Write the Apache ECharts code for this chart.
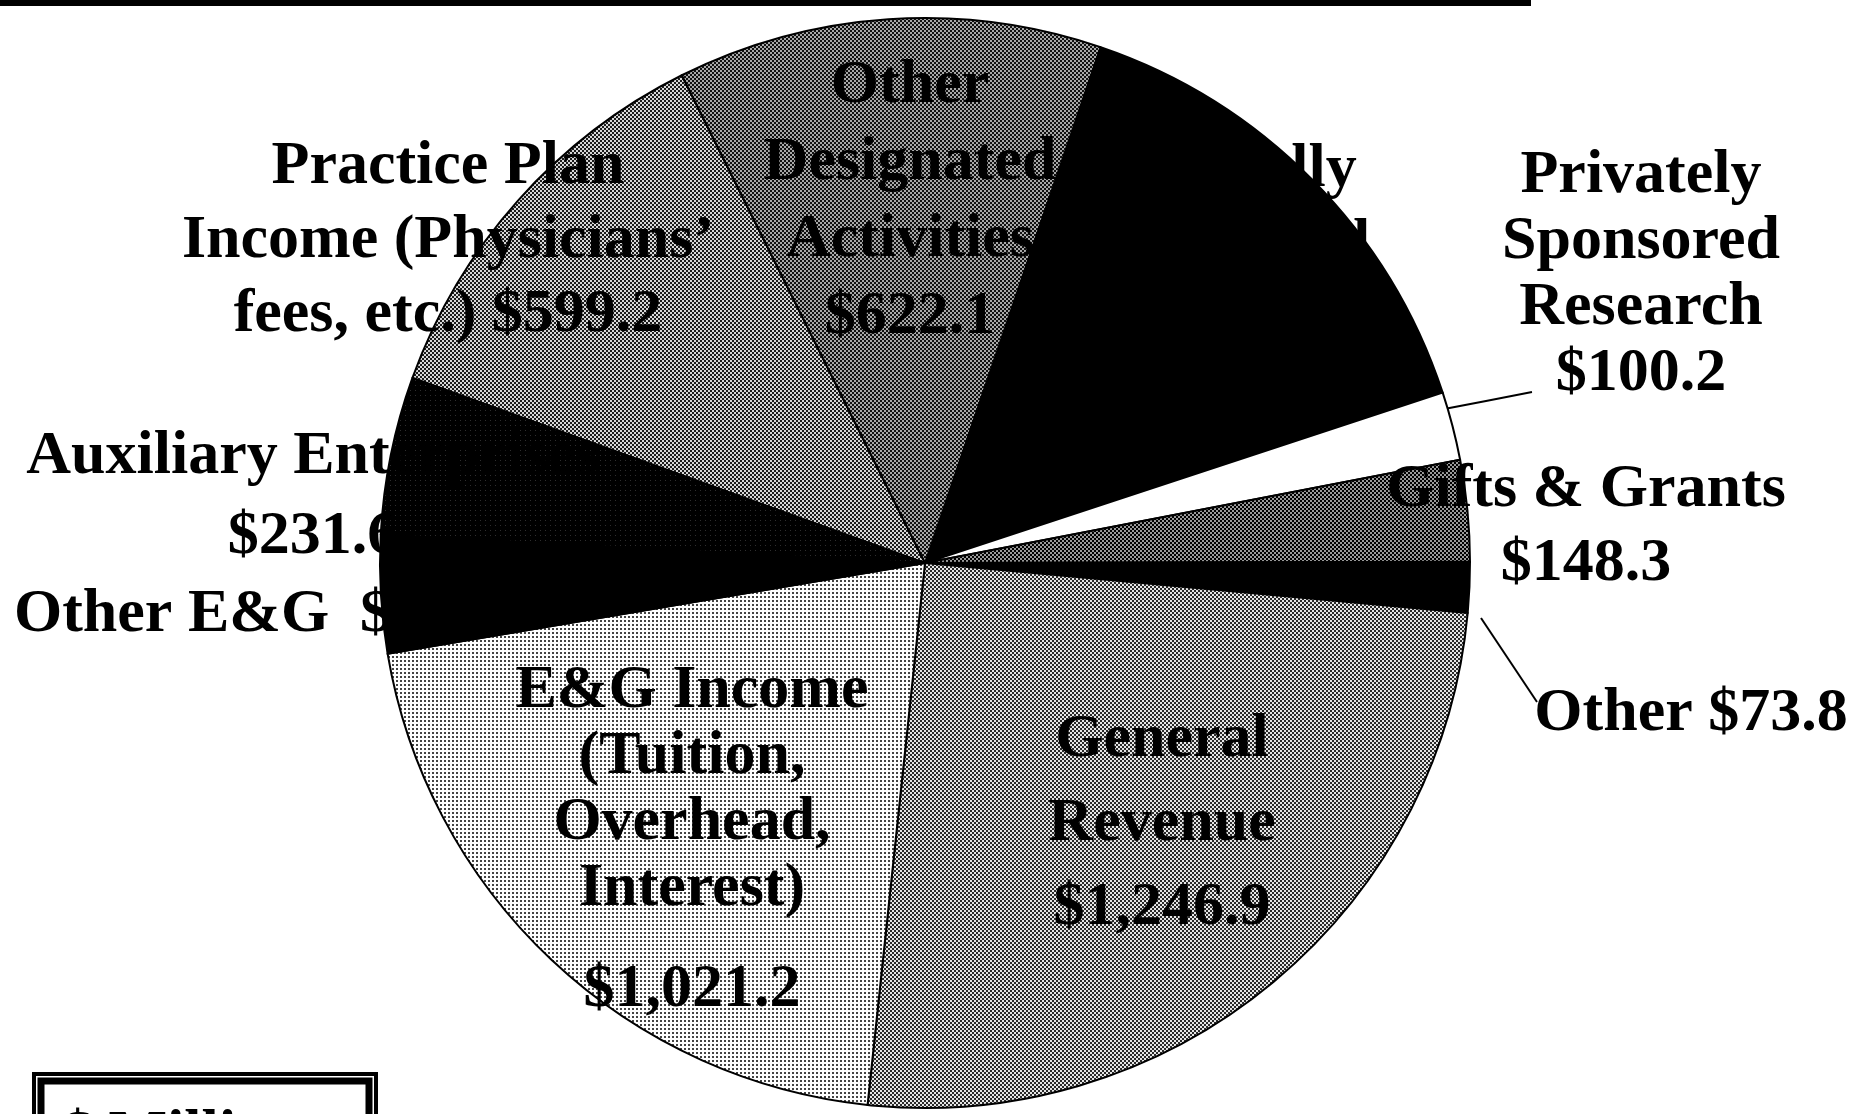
<!DOCTYPE html>
<html>
<head>
<meta charset="utf-8">
<title>Revenue Sources ($ Millions)</title>
<script src="https://cdn.jsdelivr.net/npm/echarts@6/dist/echarts.min.js"></script>
<style>
  html, body { margin: 0; padding: 0; background: #fff; }
  #chart { width: 1872px; height: 1114px; }
</style>
</head>
<body>
<div id="chart"></div>
<script>
// slices in clockwise order, starting at the Federally Sponsored slice
const categories = [
  'Federally Sponsored Research',
  'Privately Sponsored Research',
  'Gifts & Grants',
  'Other',
  'General Revenue',
  'E&G Income',
  'Other E&G',
  'Auxiliary Enterprises',
  'Practice Plan Income',
  'Other Designated Activities'
]
const values = [727.6, 100.2, 148.3, 73.8, 1246.9, 1021.2, 172.9, 231.6, 599.2, 622.1]

// label text, {v} is replaced with the slice value
const labelTemplates = [
  'Federally\nSponsored\nResearch\n{v}',
  'Privately\nSponsored\nResearch\n{v}',
  'Gifts & Grants\n{v}',
  'Other {v}',
  'General\nRevenue\n{v}',
  'E&G Income\n(Tuition,\nOverhead,\nInterest)\n\n{v}',
  'Other E&G  {v}',
  'Auxiliary Enterprises\n{v}',
  'Practice Plan\nIncome (Physicians\u2019\nfees, etc.) {v}',
  'Other\nDesignated\nActivities\n{v}'
]

// halftone-ish fills, made on small canvases
function checker(dark, light) {
  const c = document.createElement('canvas')
  c.width = c.height = 4
  const ctx = c.getContext('2d')
  ctx.fillStyle = light
  ctx.fillRect(0, 0, 4, 4)
  ctx.fillStyle = dark
  ctx.fillRect(0, 0, 2, 2)
  ctx.fillRect(2, 2, 2, 2)
  return { image: c, repeat: 'repeat' }
}
function dots(bg, dot, size, d) {
  const c = document.createElement('canvas')
  c.width = c.height = size
  const ctx = c.getContext('2d')
  ctx.fillStyle = bg
  ctx.fillRect(0, 0, size, size)
  ctx.fillStyle = dot
  ctx.fillRect(0, 0, d, d)
  return { image: c, repeat: 'repeat' }
}

const fills = [
  '#000',                       // federal
  '#fff',                       // privately
  checker('#000', '#9a9a9a'),   // gifts
  '#000',                       // other
  checker('#2a2a2a', '#e6e6e6'),// general revenue
  dots('#fff', '#444', 4, 2),   // e&g income
  '#000',                       // other e&g
  dots('#000', '#2e2e2e', 5, 1),// auxiliary
  checker('#1c1c1c', '#d8d8d8'),// practice plan
  checker('#111', '#a8a8a8')    // other designated
]

// where each label block sits: x, y, align, line height
const labelPos = [
  [1231, 282, 'center', 75],
  [1641, 275, 'center', 66],
  [1586, 527, 'center', 74],
  [1691, 714, 'center', 66],
  [1162, 824, 'center', 84],
  [692, 840, 'center', 66],
  [14, 615, 'left', 66],
  [313, 497, 'center', 80],
  [448, 241, 'center', 74],
  [910, 201, 'center', 77]
]
// straight leader lines for the two small slices on the right
const leaderLines = {
  1: [[1439, 410], [1486, 401], [1532, 392]],
  3: [[1481, 618], [1509, 660], [1537, 702]]
}

function money(v) {
  return '$' + v.toLocaleString('en-US', { minimumFractionDigits: 1, maximumFractionDigits: 1 })
}

const font = { fontFamily: 'Liberation Serif', fontWeight: 'bold', fontSize: 62, color: '#000' }

const chart = echarts.init(document.getElementById('chart'))

chart.setOption({
  animation: false,
  backgroundColor: '#fff',
  graphic: [
    // black rule across the top of the page
    { type: 'rect', shape: { x: 0, y: 0, width: 1531, height: 6 }, style: { fill: '#000' }, z: 10 },
    // "$ Millions" box, cut off by the bottom edge
    { type: 'rect', shape: { x: 34, y: 1074, width: 342, height: 120 }, style: { fill: '#fff', stroke: '#000', lineWidth: 4 }, z: 10 },
    { type: 'rect', shape: { x: 41, y: 1081, width: 328, height: 120 }, style: { fill: 'none', stroke: '#000', lineWidth: 7 }, z: 10 },
    { type: 'text', x: 62, y: 1105, style: Object.assign({ text: '$ Millions', align: 'left', verticalAlign: 'top' }, font), z: 11 }
  ],
  series: [{
    type: 'pie',
    center: [925, 563],
    radius: 545,
    startAngle: 71.2,
    clockwise: true,
    avoidLabelOverlap: false,
    emphasis: { disabled: true },
    itemStyle: { borderColor: '#000', borderWidth: 2 },
    label: {
      show: true,
      position: 'outside',
      formatter: p => labelTemplates[p.dataIndex]
        .replace('{v}', money(p.value))
        .split('\n')
        .map(line => line ? '{a|' + line + '}' : '{s| }')
        .join('\n')
    },
    labelLine: { show: false, lineStyle: { color: '#000', width: 2 }, length: 20, length2: 20 },
    labelLayout: p => {
      const pos = labelPos[p.dataIndex]
      const out = { x: pos[0], y: pos[1], align: pos[2], verticalAlign: 'middle' }
      if (leaderLines[p.dataIndex]) out.labelLinePoints = leaderLines[p.dataIndex]
      return out
    },
    data: categories.map((name, i) => ({
      name: name,
      value: values[i],
      itemStyle: { color: fills[i] },
      label: {
        rich: {
          a: Object.assign({ lineHeight: labelPos[i][3], align: labelPos[i][2] }, font),
          s: { fontSize: 20, lineHeight: 35 }
        }
      },
      labelLine: { show: !!leaderLines[i] }
    }))
  }]
})
</script>
</body>
</html>
